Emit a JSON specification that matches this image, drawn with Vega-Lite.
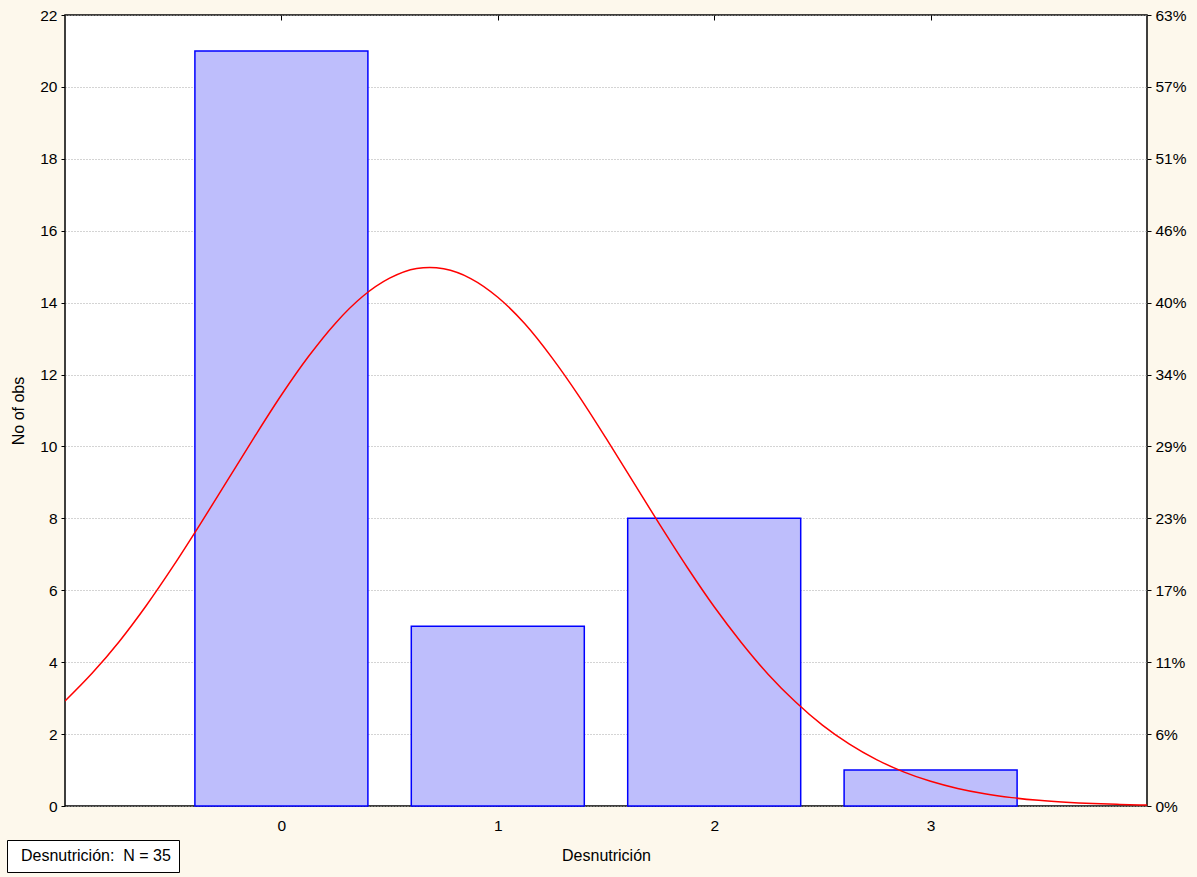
{
  "$schema": "https://vega.github.io/schema/vega-lite/v6.json",
  "width": 1082,
  "height": 791,
  "autosize": {"type": "none"},
  "padding": {"left": 65, "top": 15, "right": 50, "bottom": 71},
  "background": "#fdf8ec",
  "config": {
    "view": {"stroke": "black", "strokeWidth": 1.5, "fill": "white"},
    "font": "Liberation Sans",
    "scale": {"continuousPadding": 0},
    "axis": {
      "labelFont": "Liberation Sans",
      "labelFontSize": 15.5,
      "labelColor": "black",
      "titleFont": "Liberation Sans",
      "titleFontSize": 16,
      "titleFontWeight": "normal",
      "titleColor": "black",
      "domain": false,
      "tickColor": "black",
      "tickSize": 4,
      "labelPadding": 4
    }
  },
  "datasets": {
    "bars": [
      {"Desnutricion": 0, "count": 21},
      {"Desnutricion": 1, "count": 5},
      {"Desnutricion": 2, "count": 8},
      {"Desnutricion": 3, "count": 1}
    ],
    "curve": [
      {"x": -1, "y": 2.92}, {"x": -0.875, "y": 3.69}, {"x": -0.75, "y": 4.57}, {"x": -0.625, "y": 5.57},
      {"x": -0.5, "y": 6.67}, {"x": -0.375, "y": 7.84}, {"x": -0.25, "y": 9.05}, {"x": -0.125, "y": 10.26},
      {"x": 0, "y": 11.43}, {"x": 0.125, "y": 12.5}, {"x": 0.25, "y": 13.43}, {"x": 0.375, "y": 14.17},
      {"x": 0.5, "y": 14.68}, {"x": 0.625, "y": 14.95}, {"x": 0.6857, "y": 14.98}, {"x": 0.75, "y": 14.94},
      {"x": 0.875, "y": 14.67}, {"x": 1, "y": 14.15}, {"x": 1.125, "y": 13.41}, {"x": 1.25, "y": 12.47},
      {"x": 1.375, "y": 11.4}, {"x": 1.5, "y": 10.23}, {"x": 1.625, "y": 9.02}, {"x": 1.75, "y": 7.81},
      {"x": 1.875, "y": 6.64}, {"x": 2, "y": 5.54}, {"x": 2.125, "y": 4.55}, {"x": 2.25, "y": 3.66},
      {"x": 2.375, "y": 2.9}, {"x": 2.5, "y": 2.25}, {"x": 2.625, "y": 1.72}, {"x": 2.75, "y": 1.29},
      {"x": 2.875, "y": 0.95}, {"x": 3, "y": 0.687}, {"x": 3.125, "y": 0.488}, {"x": 3.25, "y": 0.34},
      {"x": 3.375, "y": 0.233}, {"x": 3.5, "y": 0.157}, {"x": 3.625, "y": 0.104}, {"x": 3.75, "y": 0.067},
      {"x": 3.875, "y": 0.043}, {"x": 4, "y": 0.027}
    ]
  },
  "layer": [
    {
      "data": {"name": "bars"},
      "mark": {"type": "bar", "size": 173, "stroke": "#0000ff", "strokeWidth": 1.5},
      "encoding": {
        "x": {
          "field": "Desnutricion",
          "type": "quantitative",
          "scale": {"domain": [-1, 4], "nice": false, "zero": false},
          "axis": {"values": [0, 1, 2, 3], "tickSize": -5, "labelPadding": 17, "title": "Desnutrición", "titlePadding": 14, "grid": false}
        },
        "y": {
          "field": "count",
          "type": "quantitative",
          "scale": {"domain": [0, 22], "nice": false},
          "axis": {
            "values": [0, 2, 4, 6, 8, 10, 12, 14, 16, 18, 20, 22],
            "title": "No of obs",
            "titlePadding": 13,
            "grid": true,
            "gridDash": [1, 2],
            "gridColor": "#a8a8a8",
            "gridWidth": 1
          }
        },
        "color": {
          "datum": "Desnutrición:\u00a0 N = 35",
          "scale": {"range": ["#bebefc"]},
          "legend": {
            "title": null,
            "orient": "none",
            "legendX": -58,
            "legendY": 825,
            "strokeColor": "black",
            "fillColor": "white",
            "padding": 8,
            "symbolSize": 1,
            "symbolOpacity": 0,
            "symbolStrokeWidth": 0,
            "labelOffset": -10,
            "labelFont": "Liberation Sans",
            "labelFontSize": 16,
            "labelColor": "black"
          }
        }
      }
    },
    {
      "data": {"name": "curve"},
      "mark": {"type": "line", "color": "#ff0000", "strokeWidth": 1.5, "clip": true, "interpolate": "monotone"},
      "encoding": {
        "x": {
          "field": "x",
          "type": "quantitative",
          "scale": {"domain": [-1, 4], "nice": false, "zero": false},
          "axis": {"orient": "top", "values": [0, 1, 2, 3], "labels": false, "title": null, "tickSize": -5, "grid": false}
        },
        "y": {
          "field": "y",
          "type": "quantitative",
          "scale": {"domain": [0, 22], "nice": false},
          "axis": {
            "orient": "right",
            "values": [0, 2, 4, 6, 8, 10, 12, 14, 16, 18, 20, 22],
            "labelExpr": "format(datum.value/35, '.0%')",
            "title": null,
            "grid": false
          }
        }
      }
    }
  ],
  "resolve": {"scale": {"y": "independent"}, "axis": {"x": "independent"}}
}
